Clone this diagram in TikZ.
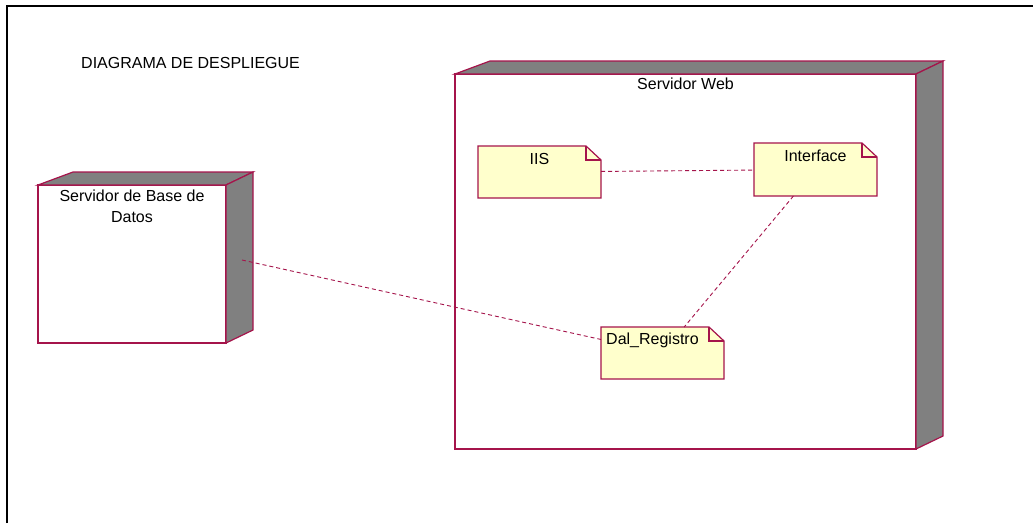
\documentclass[tikz,border=0pt]{standalone}
\usepackage{fontspec}
\setmainfont{Liberation Sans}
\usepackage{xcolor}
\usepackage{tikz}
\usetikzlibrary{positioning}

\definecolor{rosered}{RGB}{165,20,75}
\definecolor{notefill}{RGB}{255,255,204}
\definecolor{sidegray}{RGB}{128,128,128}

% top and right faces of a deployment node
\newcommand{\nodefaces}[1]{%
  \draw[edge, fill=sidegray] (#1.north west) -- ([xshift=35pt,yshift=13pt]#1.north west)
    -- ([xshift=27pt,yshift=13pt]#1.north east) -- (#1.north east) -- cycle;
  \draw[edge, fill=sidegray] (#1.north east) -- ([xshift=27pt,yshift=13pt]#1.north east)
    -- ([xshift=27pt,yshift=13pt]#1.south east) -- (#1.south east) -- cycle;}

% sheet with a folded corner for a component
\newcommand{\notesheet}[1]{%
  \draw[edge, fill=notefill] (#1.north west) -- ([xshift=-15pt]#1.north east)
    -- ([yshift=-14pt]#1.north east) -- (#1.south east) -- (#1.south west) -- cycle;
  \draw[edge] ([xshift=-15pt]#1.north east) |- ([yshift=-14pt]#1.north east);}

\begin{document}
\begin{tikzpicture}[x=1pt, y=-1pt,
    edge/.style={draw=rosered, line width=1.2pt},
    server/.style={edge, fill=white, anchor=north west, inner sep=0pt, outer sep=0pt},
    part/.style={anchor=north west, inner sep=0pt, outer sep=0pt,
                 minimum width=123pt, minimum height=52pt},
    txt/.style={inner sep=0pt, font=\fontsize{16}{21}\selectfont},
    link/.style={draw=rosered, line width=0.9pt, dash pattern=on 4pt off 3pt}]
    \useasboundingbox (0,0) rectangle (1033,523);
    \draw[line width=2pt] (7,523) -- (7,6) -- (1033,6);

    \node[txt, anchor=west] (title) at (81,63) {DIAGRAMA DE DESPLIEGUE};

    % servers
    \node[server, minimum width=461pt, minimum height=375pt] (web) at (455,74) {};
    \nodefaces{web}
    \node[txt, below=4pt of web.north] (webname) {Servidor Web};

    \node[server, minimum width=188pt, minimum height=158pt] (bd) at (38,185) {};
    \nodefaces{bd}
    \node[txt, align=center, below=5pt of bd.north] (bdname) {Servidor de Base de\\Datos};

    % components
    \node[part] (iis) at (478,146) {};
    \notesheet{iis}
    \node[txt, below=7pt of iis.north] (iisname) {IIS};

    \node[part, minimum height=53pt] (iface) at (754,143) {};
    \notesheet{iface}
    \node[txt, below=7pt of iface.north] (ifacename) {Interface};

    \node[part] (dal) at (601,327) {};
    \notesheet{dal}
    \node[txt, anchor=north west] (dalname) at ([xshift=5pt,yshift=-6pt]dal.north west) {Dal\_Registro};

    % links
    \coordinate (bdport) at ([xshift=16pt,yshift=4pt]bd.east);
    \draw[link] (iis) -- (iface); % IIS-Interface
    \draw[link] (iface) -- (dal); % Interface-Dal_Registro
    \draw[link] (bdport) -- (dal); % BD-Dal_Registro
\end{tikzpicture}
\end{document}
